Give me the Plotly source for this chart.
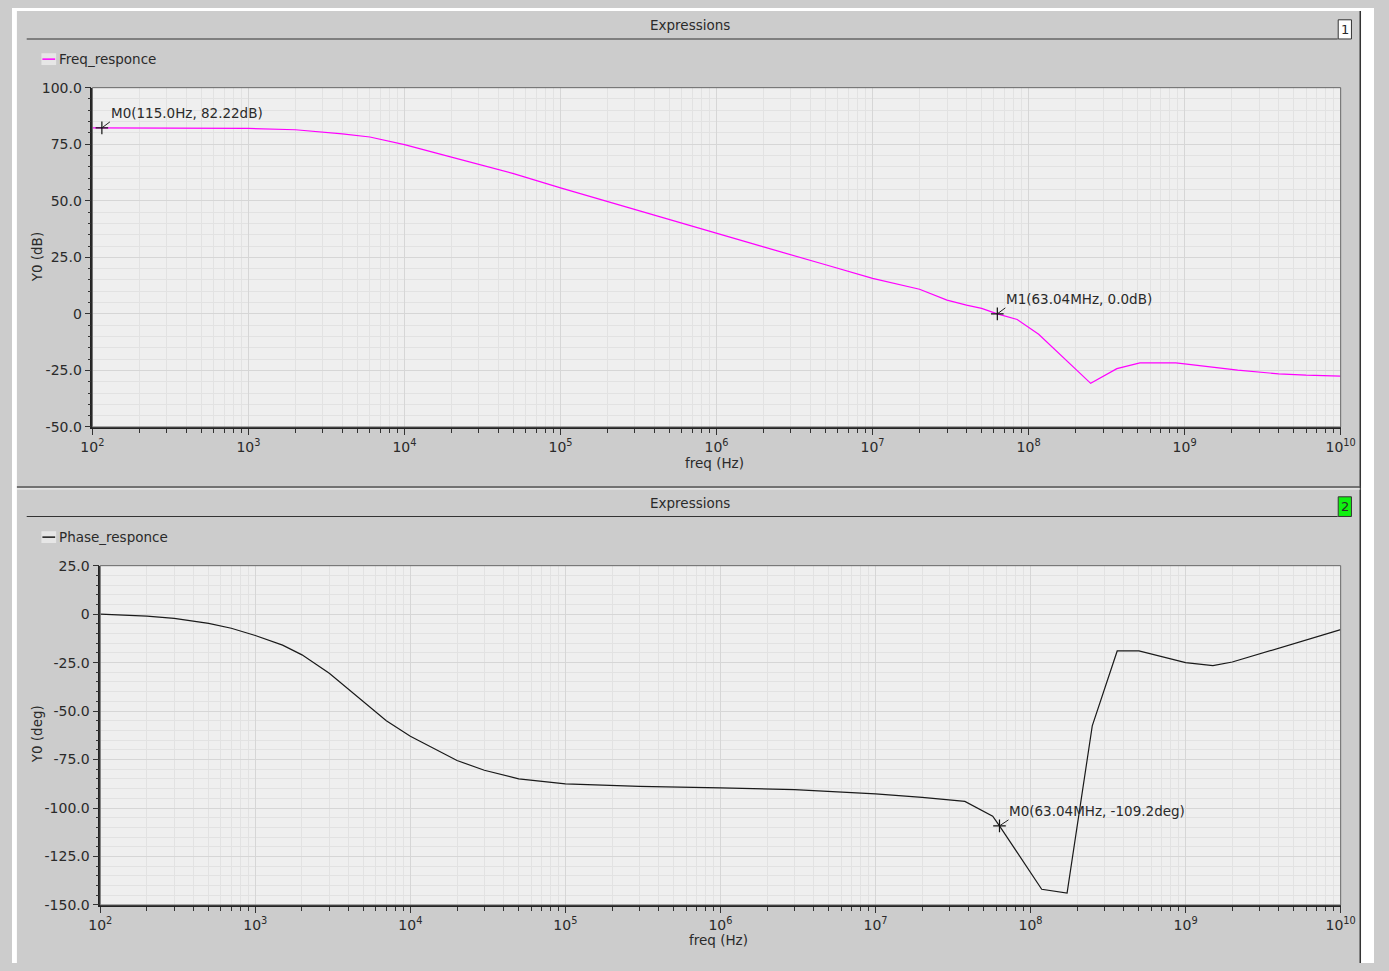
import numpy as np
import plotly.graph_objects as go

W, H = 1389, 971

# ---------------- data ----------------
mag_freq = [1e2, 115, 3e2, 5e2, 1e3, 2e3, 3e3, 4e3, 6e3, 1e4, 2e4, 5e4, 1e5, 2e5, 5e5,
            1e6, 2e6, 5e6, 1e7, 2e7, 3e7, 4e7, 5e7, 63.04e6, 8.45e7, 1.16e8, 2.5e8,
            3.68e8, 5.17e8, 8.78e8, 1e9, 2.19e9, 4e9, 6e9, 1e10]
mag_db = [82.22, 82.22, 82.2, 82.15, 82.0, 81.4, 80.5, 79.6, 78.2, 74.8, 69.3, 62.0, 55.7,
          49.6, 41.7, 35.7, 29.6, 21.7, 15.7, 10.9, 6.1, 3.9, 2.4, 0.0, -2.5, -9.0, -30.7,
          -24.2, -21.7, -21.7, -22.1, -24.9, -26.5, -27.1, -27.5]

ph_freq = [1e2, 2e2, 3e2, 5e2, 7e2, 1e3, 1.5e3, 2e3, 3e3, 5e3, 7e3, 1e4, 2e4, 3e4, 5e4,
           1e5, 3e5, 1e6, 3e6, 1e7, 2e7, 3.77e7, 5.7e7, 63.04e6, 1.18e8, 1.72e8, 2.5e8,
           3.62e8, 5e8, 1e9, 1.5e9, 2e9, 5e9, 1e10]
ph_deg = [0.0, -1.0, -2.2, -4.8, -7.3, -11.0, -16.0, -21.0, -30.5, -45.0, -55.0, -63.0,
          -75.5, -80.5, -85.0, -87.5, -88.8, -89.6, -90.5, -92.7, -94.5, -96.6, -104.2,
          -109.2, -141.9, -143.9, -57.6, -19.0, -19.0, -25.0, -26.6, -24.7, -15.0, -8.0]

mag_marker_freq = [115.0, 63.04e6]
mag_marker_db = [82.22, 0.0]
mag_marker_text = ["M0(115.0Hz, 82.22dB)", "M1(63.04MHz, 0.0dB)"]

ph_marker_freq = [63.04e6]
ph_marker_deg = [-109.2]
ph_marker_text = ["M0(63.04MHz, -109.2deg)"]

decades = [2, 3, 4, 5, 6, 7, 8, 9, 10]
x_tickvals = [10.0 ** d for d in decades]
x_ticktext = ["10<sup>%d</sup>" % d for d in decades]
x_minor = [k * 10.0 ** d for d in decades[:-1] for k in range(2, 10)]

mag_tickvals = [-50, -25, 0, 25, 50, 75, 100]
mag_ticktext = ["-50.0", "-25.0", "0", "25.0", "50.0", "75.0", "100.0"]
ph_tickvals = [-150, -125, -100, -75, -50, -25, 0, 25]
ph_ticktext = ["-150.0", "-125.0", "-100.0", "-75.0", "-50.0", "-25.0", "0", "25.0"]

# ---------------- helpers (window pixel -> paper fraction) ----------------
def px(x):
    return x / W

def py(y):
    return 1 - y / H

FONT = "DejaVu Sans"
GRAY = "#cccccc"
PLOTBG = "#efefef"
GRID_MAJ = "#d6d6d6"
GRID_MIN = "#e2e2e2"
TXT = "#2a2a2a"

fig = go.Figure()
fig.add_trace(go.Scatter(x=mag_freq, y=mag_db, mode="lines", name="Freq_responce",
                         line=dict(color="#ff00ff", width=1.2), xaxis="x", yaxis="y",
                         showlegend=False))
fig.add_trace(go.Scatter(x=mag_marker_freq, y=mag_marker_db, mode="markers", name="markers",
                         marker=dict(symbol="cross-thin", size=9, line=dict(width=1.2, color="#111")),
                         xaxis="x", yaxis="y", showlegend=False))
fig.add_trace(go.Scatter(x=ph_freq, y=ph_deg, mode="lines", name="Phase_responce",
                         line=dict(color="#1a1a1a", width=1.2), xaxis="x2", yaxis="y2",
                         showlegend=False))
fig.add_trace(go.Scatter(x=ph_marker_freq, y=ph_marker_deg, mode="markers", name="markers2",
                         marker=dict(symbol="cross-thin", size=9, line=dict(width=1.2, color="#111")),
                         xaxis="x2", yaxis="y2", showlegend=False))

def xaxis(domain, anchor):
    return dict(type="log", range=[2, 10], domain=domain, anchor=anchor,
                tickvals=x_tickvals, ticktext=x_ticktext, ticks="outside", ticklen=6,
                tickcolor="#333", tickwidth=1, showline=True, linecolor="#222", linewidth=1.5,
                showgrid=True, gridcolor=GRID_MAJ, gridwidth=1, zeroline=False,
                tickfont=dict(family=FONT, size=14, color=TXT),
                minor=dict(tickvals=x_minor, ticks="outside", ticklen=4, tickcolor="#333",
                           showgrid=True, gridcolor=GRID_MIN, gridwidth=1))

def yaxis(domain, anchor, rng, tv, tt):
    return dict(range=rng, domain=domain, anchor=anchor, tickvals=tv, ticktext=tt,
                ticks="outside", ticklen=6, tickcolor="#333", showline=True, linecolor="#222",
                linewidth=1.5, showgrid=True, gridcolor=GRID_MAJ, zeroline=False,
                tickfont=dict(family=FONT, size=14, color=TXT),
                minor=dict(dtick=5, tick0=0, ticks="outside", ticklen=3, tickcolor="#333",
                           showgrid=True, gridcolor=GRID_MIN))

fig.update_layout(
    width=W, height=H, margin=dict(l=0, r=0, t=0, b=0),
    paper_bgcolor=GRAY, plot_bgcolor=PLOTBG, showlegend=False,
    font=dict(family=FONT, size=13, color=TXT),
    xaxis=xaxis([px(82), px(1355)], "y"),
    yaxis=yaxis([py(426), py(81)], "x", [-50, 100], mag_tickvals, mag_ticktext),
    xaxis2=xaxis([px(90), px(1355)], "y2"),
    yaxis2=yaxis([py(912), py(567)], "x2", [-150, 25], ph_tickvals, ph_ticktext),
)

shapes = []
# white page border
shapes.append(dict(type="rect", xref="paper", yref="paper", x0=0, x1=px(5), y0=0, y1=1,
                   fillcolor="white", line=dict(width=0)))
shapes.append(dict(type="rect", xref="paper", yref="paper", x0=0, x1=1, y0=py(3), y1=1,
                   fillcolor="white", line=dict(width=0)))
shapes.append(dict(type="rect", xref="paper", yref="paper", x0=px(1375.5), x1=1, y0=0, y1=1,
                   fillcolor="white", line=dict(width=0)))
shapes.append(dict(type="line", xref="paper", yref="paper", x0=px(1375), x1=px(1375),
                   y0=0, y1=py(3), line=dict(color="#333", width=1.5)))
# panel separator
shapes.append(dict(type="line", xref="paper", yref="paper", x0=px(5), x1=px(1375),
                   y0=py(487), y1=py(487), line=dict(color="#555", width=1.5)))
shapes.append(dict(type="line", xref="paper", yref="paper", x0=px(5), x1=px(1375),
                   y0=py(489), y1=py(489), line=dict(color="#f4f4f4", width=1)))
# header lines
for yl in (31.5, 517):
    shapes.append(dict(type="line", xref="paper", yref="paper", x0=px(15), x1=px(1352),
                       y0=py(yl), y1=py(yl), line=dict(color="#333", width=1.2)))
# header boxes
shapes.append(dict(type="rect", xref="paper", yref="paper", x0=px(1352.5), x1=px(1366),
                   y0=py(31.5), y1=py(12), fillcolor="white", line=dict(color="#333", width=1)))
shapes.append(dict(type="rect", xref="paper", yref="paper", x0=px(1352.5), x1=px(1366),
                   y0=py(517), y1=py(497), fillcolor="#10f010", line=dict(color="#333", width=1)))
# plot area borders (top/right)
for (x0, x1, y0, y1) in ((82, 1355, 81, 426), (90, 1355, 567, 912)):
    shapes.append(dict(type="rect", xref="paper", yref="paper", x0=px(x0), x1=px(x1),
                       y0=py(y1), y1=py(y0), line=dict(color="#666", width=1), layer="above"))
# legend swatches
for (yy, col) in ((52, "#ff00ff"), (538, "#1a1a1a")):
    shapes.append(dict(type="rect", xref="paper", yref="paper", x0=px(30), x1=px(45),
                       y0=py(yy + 6), y1=py(yy - 6), fillcolor="#e6e6e6", line=dict(width=0)))
    shapes.append(dict(type="line", xref="paper", yref="paper", x0=px(31), x1=px(44),
                       y0=py(yy), y1=py(yy), line=dict(color=col, width=1.5)))
fig.update_layout(shapes=shapes)

ann = []
def ptext(x, y, text, size=13.5, xanchor="center", angle=0):
    ann.append(dict(xref="paper", yref="paper", x=px(x), y=py(y), text=text, showarrow=False,
                    xanchor=xanchor, yanchor="middle", textangle=angle,
                    font=dict(family=FONT, size=size, color=TXT)))

ptext(691, 17, "Expressions")
ptext(691, 503, "Expressions")
ptext(1359.3, 22, "1", size=13)
ptext(1359.3, 507, "2", size=13)
ptext(46, 52, "Freq_responce", xanchor="left")
ptext(46, 538, "Phase_responce", xanchor="left")
ptext(716, 463, "freq (Hz)")
ptext(721, 948, "freq (Hz)")
ptext(25, 253, "Y0 (dB)", angle=-90)
ptext(25, 739, "Y0 (deg)", angle=-90)

for f, v, t in zip(mag_marker_freq, mag_marker_db, mag_marker_text):
    ann.append(dict(xref="x", yref="y", x=np.log10(f), y=v, text=t, showarrow=True,
                    arrowhead=0, arrowwidth=1, arrowcolor="#222", ax=8, ay=-6,
                    xanchor="left", yanchor="bottom", borderpad=0,
                    font=dict(family=FONT, size=13.5, color=TXT)))
for f, v, t in zip(ph_marker_freq, ph_marker_deg, ph_marker_text):
    ann.append(dict(xref="x2", yref="y2", x=np.log10(f), y=v, text=t, showarrow=True,
                    arrowhead=0, arrowwidth=1, arrowcolor="#222", ax=9, ay=-6,
                    xanchor="left", yanchor="bottom", borderpad=0,
                    font=dict(family=FONT, size=13.5, color=TXT)))
fig.update_layout(annotations=ann)

fig.write_html("out.html", config={"displayModeBar": False},
               post_script="document.body.style.margin='0';"
                           "document.body.style.overflow='hidden';"
                           "document.documentElement.style.overflow='hidden';")
